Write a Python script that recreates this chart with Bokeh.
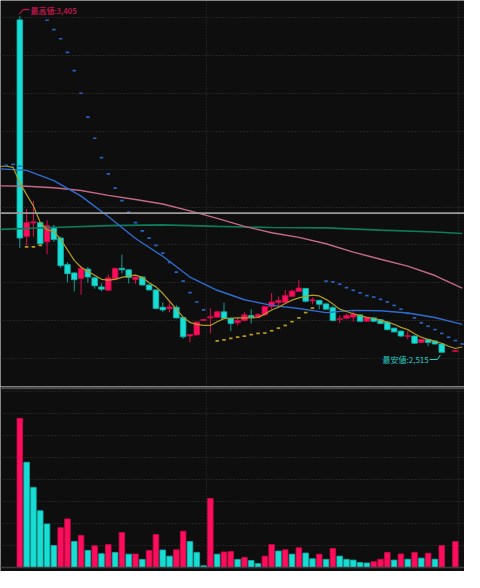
import numpy as np
from bokeh.plotting import figure
from bokeh.models import ColumnDataSource, Grid, FixedTicker, Span, Range1d
from bokeh.layouts import column
from bokeh.embed import file_html
from bokeh.resources import INLINE
from bokeh.core.properties import value

# ---------------- data ----------------
day_idx = list(range(65))
opens = [3395, 2822, 2858, 2859, 2808, 2847, 2818, 2748, 2726, 2711,
         2736, 2713, 2689, 2680, 2710, 2738, 2734, 2708, 2715, 2694,
         2681, 2635, 2631, 2635, 2608, 2559, 2562, 2600, 2607, 2609,
         2623, 2606, 2594, 2600, 2613, 2609, 2615, 2637, 2648, 2648,
         2664, 2677, 2685, 2652, 2653, 2644, 2634, 2603, 2606, 2609,
         2615, 2598, 2607, 2602, 2596, 2580, 2572, 2558, 2559, 2542,
         2550, 2546, 2538, None, 2518]
highs = [3405, 2895, 2916, 2862, 2865, 2853, 2822, 2754, 2728, 2745,
         2742, 2716, 2698, 2722, 2740, 2774, 2736, 2716, 2717, 2698,
         2683, 2648, 2648, 2641, 2610, 2563, 2597, 2604, 2632, 2626,
         2647, 2608, 2608, 2622, 2630, 2620, 2638, 2673, 2664, 2681,
         2682, 2707, 2686, 2661, 2655, 2646, 2640, 2613, 2618, 2626,
         2617, 2610, 2609, 2604, 2598, 2581, 2574, 2572, 2561, 2552,
         2552, 2548, 2540, None, 2522]
lows = [2792, 2798, 2822, 2798, 2775, 2808, 2739, 2701, 2677, 2668,
        2700, 2684, 2677, 2680, 2708, 2724, 2698, 2697, 2692, 2679,
        2630, 2622, 2622, 2606, 2552, 2542, 2561, 2599, 2566, 2607,
        2605, 2572, 2587, 2598, 2592, 2607, 2613, 2630, 2634, 2647,
        2663, 2676, 2648, 2643, 2630, 2628, 2598, 2593, 2604, 2597,
        2596, 2597, 2596, 2590, 2574, 2568, 2556, 2550, 2538, 2541,
        2532, 2536, 2515, None, 2517]
closes = [2818, 2859, 2861, 2803, 2851, 2814, 2745, 2724, 2708, 2738,
          2715, 2692, 2683, 2713, 2738, 2734, 2714, 2715, 2694, 2681,
          2632, 2628, 2636, 2607, 2557, 2563, 2596, 2603, 2610, 2623,
          2606, 2592, 2600, 2615, 2609, 2616, 2637, 2649, 2653, 2666,
          2678, 2686, 2651, 2655, 2643, 2630, 2600, 2605, 2613, 2617,
          2598, 2609, 2598, 2592, 2576, 2570, 2559, 2560, 2540, 2550,
          2542, 2538, 2516, None, 2521]
# volume (thousand shares)
volume = [678, 478, 364, 258, 198, 100, 181, 221, 119, 146,
          78, 99, 63, 105, 69, 159, 61, 62, 37, 78,
          150, 80, 52, 81, 165, 118, 69, 8, 314, 61,
          71, 73, 37, 46, 32, 18, 52, 105, 75, 81,
          61, 90, 66, 40, 61, 37, 87, 52, 37, 34,
          23, 21, 27, 38, 69, 34, 62, 38, 69, 43,
          65, 38, 100, None, 118]

# moving averages
ma5_idx = list(range(-3, 66))
ma5 = [3008, 3008, 3005, 2964, 2933, 2903, 2859, 2840, 2835, 2815,
       2787, 2759, 2741, 2730, 2720, 2709, 2707, 2709, 2714, 2718,
       2720, 2714, 2700, 2689, 2672, 2651, 2630, 2609, 2595, 2590,
       2587, 2587, 2597, 2605, 2606, 2607, 2607, 2607, 2608, 2617,
       2628, 2635, 2645, 2654, 2660, 2664, 2667, 2665, 2656, 2644,
       2630, 2624, 2618, 2613, 2608, 2606, 2601, 2596, 2590, 2582,
       2576, 2565, 2556, 2550, 2545, 2540, 2532, 2526, 2530]
ma25_idx = list(range(-3, 66, 4))
ma25 = [3001, 2997, 2970, 2929, 2875, 2817, 2770, 2715, 2680, 2655,
        2640, 2632, 2621, 2627, 2626, 2620, 2608, 2590]
ma75_idx = list(range(-3, 66, 4))
ma75 = [2956, 2955, 2951, 2944, 2931, 2920, 2908, 2890, 2870, 2849,
        2832, 2820, 2803, 2781, 2762, 2744, 2719, 2686]
ma200_idx = [-3, 5, 13, 21, 29, 37, 45, 53, 61, 65]
ma200 = [2841, 2846, 2851, 2853, 2849, 2846, 2845, 2839, 2834, 2830]

# parabolic SAR
sar_above_idx = [-3, -2, -1, 0] + list(range(4, 28)) + list(range(45, 66))
sar_above = [3015, 3010, 3013, 3008,
             3394, 3369, 3345, 3309, 3261, 3201, 3138, 3082, 3031, 2988,
             2950, 2917, 2887, 2859, 2837, 2818, 2799, 2778, 2754, 2728,
             2704, 2674, 2649, 2628,
             2704, 2702, 2696, 2687, 2680, 2673, 2666, 2662, 2656, 2649,
             2640, 2630, 2619, 2607, 2594, 2585, 2576, 2566, 2556, 2547, 2538]
sar_below_idx = [1, 2, 3] + list(range(29, 44))
sar_below = [2795, 2795, 2799,
             2546, 2549, 2553, 2556, 2559, 2563, 2566, 2567, 2573, 2580,
             2587, 2597, 2607, 2621, 2633]

ref_line = 2884
price_ticks = [2500, 2600, 2700, 2800, 2900, 3000, 3100, 3200, 3300, 3400]
vol_ticks = [100, 200, 300, 400, 500, 600, 700, 800]
month_breaks = [27.5, 64.5]

# ---------------- styling ----------------
BG = "#0e0e0e"
GRID = "#343434"
GRID_DASH = "1 2"
PINK, CYAN = "#ff0d5d", "#17ded5"
PINK_LINE, CYAN_LINE = "#c70a49", "#10b3ab"
PINK_WICK, CYAN_WICK = "#d8114f", "#1a9993"
W, H1, H2 = 464, 386, 185
BW = 0.82

xr = Range1d(-2.84, 65.34)


def base_fig(h, yr):
    f = figure(width=W, height=h, x_range=xr, y_range=yr,
               output_backend="svg", toolbar_location=None,
               x_axis_location=None, y_axis_location=None,
               min_border=0, background_fill_color=BG,
               border_fill_color=BG, outline_line_color=None)
    f.grid.visible = False
    f.add_layout(Grid(dimension=0, ticker=FixedTicker(ticks=month_breaks),
                      grid_line_color=GRID, grid_line_dash=GRID_DASH,
                      grid_line_width=1))
    return f


# ---------------- price panel ----------------
p = base_fig(H1, Range1d(2425.6, 3446.2))
p.add_layout(Grid(dimension=1, ticker=FixedTicker(ticks=price_ticks),
                  grid_line_color=GRID, grid_line_dash=GRID_DASH,
                  grid_line_width=1))
p.add_layout(Span(location=ref_line, dimension="width",
                  line_color="#9a9a9a", line_width=1.6))

cx, ch, cl, top, bot, fill, line, wick = ([] for _ in range(8))
for i, o, h, l, c in zip(day_idx, opens, highs, lows, closes):
    if o is None:
        continue
    up = c >= o
    cx.append(i); ch.append(h); cl.append(l)
    top.append(max(o, c)); bot.append(min(o, c))
    fill.append(PINK if up else CYAN)
    line.append(PINK_LINE if up else CYAN_LINE)
    wick.append(PINK_WICK if up else CYAN_WICK)
csrc = ColumnDataSource(dict(x=cx, h=ch, l=cl, top=top, bot=bot,
                             fill=fill, line=line, wick=wick))
p.segment(x0="x", y0="l", x1="x", y1="h", line_color="wick",
          line_width=1, source=csrc)
p.vbar(x="x", width=BW, top="top", bottom="bot", fill_color="fill",
       line_color="line", line_width=0.8, source=csrc)

p.line(ma200_idx, ma200, line_color="#0f7a5a", line_width=1.6)
p.line(ma75_idx, ma75, line_color="#c46a88", line_width=1.4)
p.line(ma25_idx, ma25, line_color="#2f6cd0", line_width=1.4)
p.line(ma5_idx, ma5, line_color="#b39b22", line_width=1.2)

p.rect(x=sar_above_idx, y=sar_above, width=3.5, height=1.7,
       width_units="screen", height_units="screen",
       fill_color="#2a62c2", line_color=None)
p.rect(x=sar_below_idx, y=sar_below, width=3.5, height=1.7,
       width_units="screen", height_units="screen",
       fill_color="#b89b1c", line_color=None)

# high / low labels
valid = [(i, h) for i, h in zip(day_idx, highs) if h is not None]
hi_idx, hi_val = max(valid, key=lambda t: t[1])
valid_l = [(i, l) for i, l in zip(day_idx, lows) if l is not None]
lo_idx, lo_val = min(valid_l, key=lambda t: t[1])

HI_COL = "#e8185e"
LO_COL = "#25d0c8"
p.line([hi_idx - 0.07, hi_idx + 0.43, hi_idx + 1.42],
       [hi_val + 5, hi_val + 17, hi_val + 17], line_color=HI_COL, line_width=1)
p.text(x=[hi_idx + 1.55], y=[hi_val + 14], text=[f"最高値:{hi_val:,}"],
       text_font=value("Noto Sans CJK JP"), text_font_size="8px",
       text_color=HI_COL, text_baseline="middle", text_align="left")
p.line([lo_idx - 1.77, lo_idx - 0.64, lo_idx - 0.21],
       [lo_val - 18, lo_val - 18, lo_val - 6], line_color=LO_COL, line_width=1)
p.text(x=[lo_idx - 1.92], y=[lo_val - 18], text=[f"最安値:{lo_val:,}"],
       text_font=value("Noto Sans CJK JP"), text_font_size="8px",
       text_color=LO_COL, text_baseline="middle", text_align="right")

# ---------------- volume panel ----------------
v = base_fig(H2, Range1d(-17.7, 822))
v.add_layout(Grid(dimension=1, ticker=FixedTicker(ticks=vol_ticks),
                  grid_line_color=GRID, grid_line_dash=GRID_DASH,
                  grid_line_width=1))
v.add_layout(Span(location=0, dimension="width", line_color="#3a3a3a",
                  line_width=1.5))
v.add_layout(Span(location=815.5, dimension="width", line_color="#4a4a4a",
                  line_width=2.5))

vx, vt, vf, vl = [], [], [], []
prev = None
for i, vol in zip(day_idx, volume):
    if vol is None:
        continue
    up = prev is None or vol >= prev
    vx.append(i); vt.append(vol)
    vf.append(PINK if up else CYAN)
    vl.append(PINK_LINE if up else CYAN_LINE)
    prev = vol
vsrc = ColumnDataSource(dict(x=vx, top=vt, fill=vf, line=vl))
v.vbar(x="x", width=BW, top="top", bottom=0, fill_color="fill",
       line_color="line", line_width=0.8, source=vsrc)

layout = column(p, v, spacing=0)
open("out.html", "w").write(file_html(layout, INLINE))
